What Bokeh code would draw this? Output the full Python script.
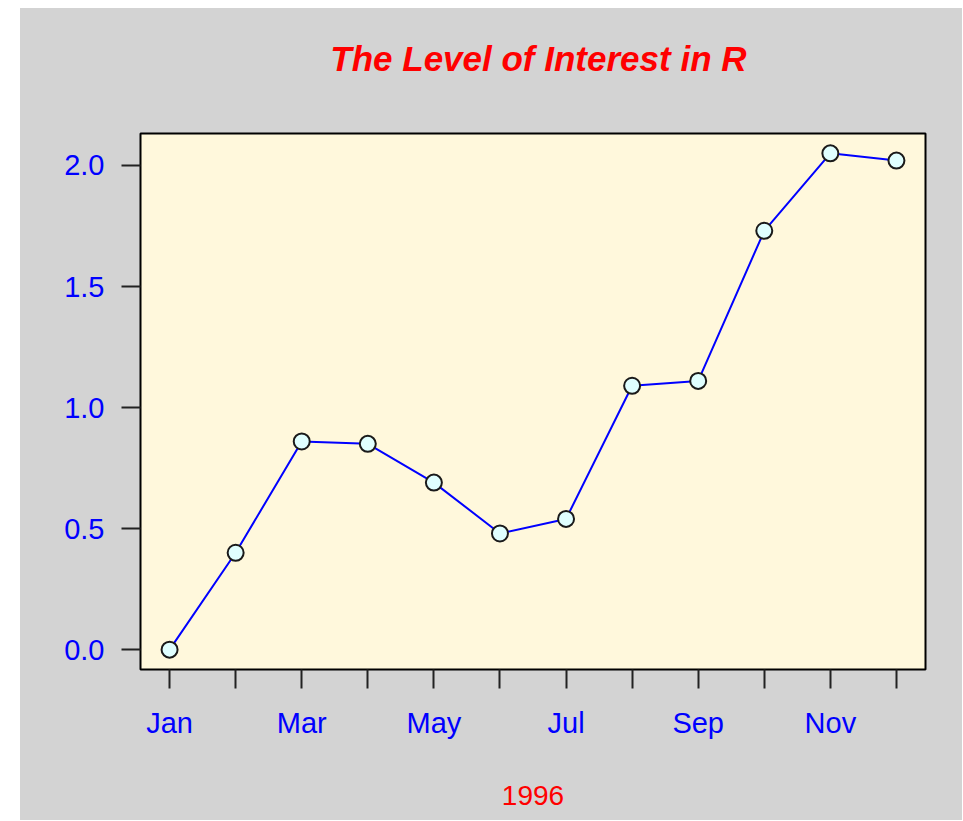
from bokeh.plotting import figure
from bokeh.models import FixedTicker, Range1d, Spacer, ColumnDataSource
from bokeh.core.properties import value
from bokeh.layouts import row, column
from bokeh.embed import file_html
from bokeh.resources import INLINE

months = ["Jan", "Feb", "Mar", "Apr", "May", "Jun",
          "Jul", "Aug", "Sep", "Oct", "Nov", "Dec"]
interest = [0.0, 0.40, 0.86, 0.85, 0.69, 0.48, 0.54, 1.09, 1.11, 1.73, 2.05, 2.02]
y_ticks = [0.0, 0.5, 1.0, 1.5, 2.0]
title_text = "The Level of Interest in R"
x_label = "1996"

month_num = list(range(1, len(months) + 1))
src = ColumnDataSource(dict(x=month_num, y=interest, m=months))

GRAY = "#D3D3D3"
W, H, TH = 942, 812, 123
BL, BR = 120, 37

# R-style 4% range expansion
xpad = (month_num[-1] - month_num[0]) * 0.04
ypad = (max(interest) - min(interest)) * 0.04
x_range = Range1d(month_num[0] - xpad, month_num[-1] + xpad)
y_range = Range1d(min(interest) - ypad, max(interest) + ypad)

# --- title strip (pixel-like ranges, frame fills the whole strip)
t = figure(width=W, height=TH, output_backend="svg", toolbar_location=None,
           x_range=Range1d(0, W), y_range=Range1d(0, TH),
           min_border_left=0, min_border_right=0, min_border_top=0, min_border_bottom=0)
t.axis.visible = False
t.grid.visible = False
t.outline_line_color = None
t.background_fill_color = GRAY
t.border_fill_color = GRAY
t.text(x=[(BL + (W - BR)) / 2 - 35], y=[TH - 64 + 14], text=[title_text],
       text_align="center", text_baseline="alphabetic", text_color="red",
       text_font=value("Liberation Sans"), text_font_size="35px", text_font_style="bold italic")

# --- main plot
p = figure(width=W, height=H - TH, output_backend="svg", toolbar_location=None,
           x_range=x_range, y_range=y_range,
           min_border_left=BL, min_border_right=BR, min_border_top=2, min_border_bottom=151)

p.border_fill_color = GRAY
p.background_fill_color = "#FFF8DC"
p.outline_line_color = "black"
p.outline_line_width = 2
p.grid.visible = False

for ax in (p.xaxis[0], p.yaxis[0]):
    ax.axis_line_color = None
    ax.major_tick_line_color = "#222222"
    ax.major_tick_line_width = 2
    ax.major_tick_out = 19
    ax.major_tick_in = 0
    ax.minor_tick_line_color = None
    ax.major_label_text_color = "blue"
    ax.major_label_text_font = "Liberation Sans"
    ax.major_label_text_font_size = "29px"

p.xaxis.ticker = FixedTicker(ticks=month_num)
p.xaxis.major_label_overrides = {n: (m if i % 2 == 0 else "") for i, (n, m) in enumerate(zip(month_num, months))}
p.xaxis.major_label_standoff = 18
p.xaxis.axis_label = x_label
p.xaxis.axis_label_text_color = "red"
p.xaxis.axis_label_text_font = "Liberation Sans"
p.xaxis.axis_label_text_font_size = "28px"
p.xaxis.axis_label_text_font_style = "normal"
p.xaxis.axis_label_standoff = 44

p.yaxis.ticker = FixedTicker(ticks=y_ticks)
p.yaxis.major_label_overrides = {t_: f"{t_:.1f}" for t_ in y_ticks}
p.yaxis.major_label_standoff = 17

p.line("x", "y", source=src, line_color="blue", line_width=2)
p.scatter("x", "y", source=src, size=16, fill_color="#E0FFFF", line_color="#1a1a1a", line_width=2)

inner = column(t, p, styles={"background-color": GRAY})
layout = column(Spacer(width=20, height=8), row(Spacer(width=20, height=H), inner))
open("out.html", "w").write(file_html(layout, INLINE))
